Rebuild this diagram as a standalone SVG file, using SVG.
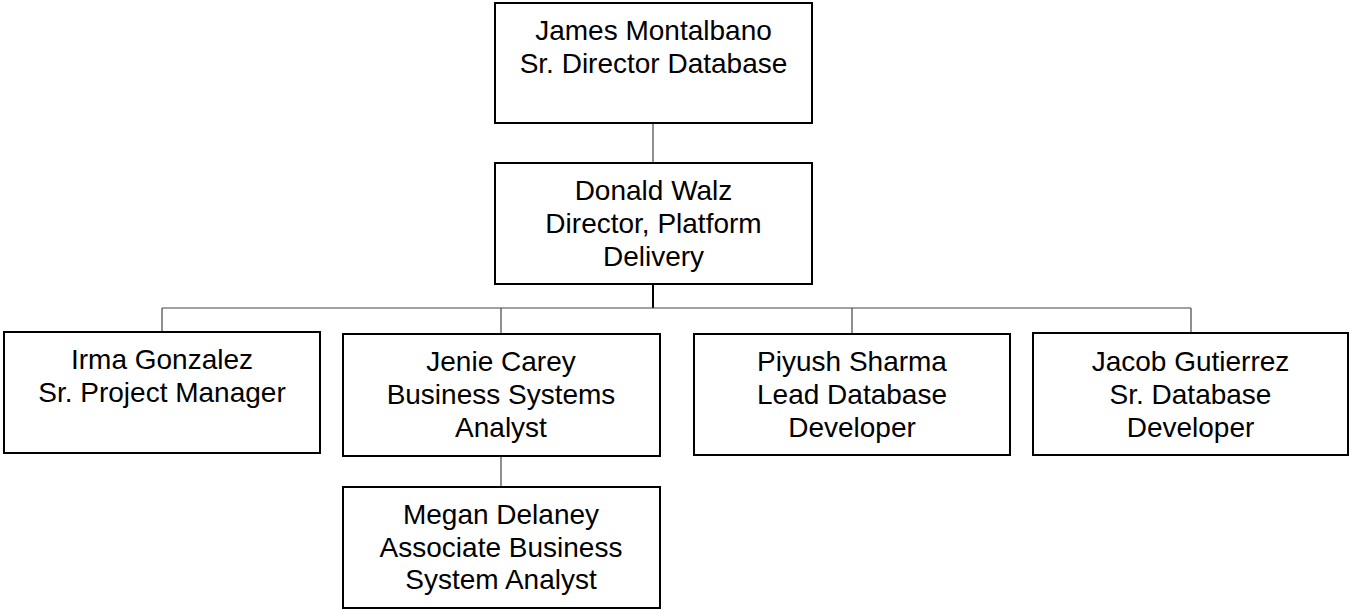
<svg xmlns="http://www.w3.org/2000/svg" width="1350" height="609" viewBox="0 0 1350 609">
<style>
.box{fill:#fff;stroke:#000;stroke-width:2}
.t{font-family:"Liberation Sans",Arial,sans-serif;font-size:28px;fill:#000;text-anchor:middle}
.c{fill:none;stroke:#444;stroke-width:1.2}
</style>
<rect width="1350" height="609" fill="#fff"/>
<g id="connectors">
<line class="c" x1="653" y1="123" x2="653" y2="163"/>
<line class="c" x1="653" y1="284" x2="653" y2="308" style="stroke:#000;stroke-width:2"/>
<line class="c" x1="162" y1="308" x2="1191" y2="308"/>
<line class="c" x1="162" y1="308" x2="162" y2="332"/>
<line class="c" x1="501" y1="308" x2="501" y2="334"/>
<line class="c" x1="852" y1="308" x2="852" y2="334"/>
<line class="c" x1="1191" y1="308" x2="1191" y2="333"/>
<line class="c" x1="501" y1="456" x2="501" y2="487"/>
</g>
<g id="james">
<rect class="box" x="495" y="3" width="317" height="120"/>
<text class="t" x="653.5" y="39.5">James Montalbano</text>
<text class="t" x="653.5" y="72.5">Sr. Director Database</text>
</g>
<g id="donald">
<rect class="box" x="495" y="163" width="317" height="121"/>
<text class="t" x="653.5" y="199.5">Donald Walz</text>
<text class="t" x="653.5" y="232.5">Director, Platform</text>
<text class="t" x="653.5" y="266">Delivery</text>
</g>
<g id="irma">
<rect class="box" x="4" y="332" width="316" height="121"/>
<text class="t" x="162" y="368.5">Irma Gonzalez</text>
<text class="t" x="162" y="401.5">Sr. Project Manager</text>
</g>
<g id="jenie">
<rect class="box" x="343" y="334" width="317" height="122"/>
<text class="t" x="501" y="371">Jenie Carey</text>
<text class="t" x="501" y="404">Business Systems</text>
<text class="t" x="501" y="437">Analyst</text>
</g>
<g id="piyush">
<rect class="box" x="694" y="334" width="316" height="121"/>
<text class="t" x="852" y="371">Piyush Sharma</text>
<text class="t" x="852" y="404">Lead Database</text>
<text class="t" x="852" y="437">Developer</text>
</g>
<g id="jacob">
<rect class="box" x="1033" y="333" width="315" height="122"/>
<text class="t" x="1190.5" y="371">Jacob Gutierrez</text>
<text class="t" x="1190.5" y="403.5">Sr. Database</text>
<text class="t" x="1190.5" y="437">Developer</text>
</g>
<g id="megan">
<rect class="box" x="343" y="487" width="317" height="121"/>
<text class="t" x="501" y="523.5">Megan Delaney</text>
<text class="t" x="501" y="556.5">Associate Business</text>
<text class="t" x="501" y="589">System Analyst</text>
</g>
</svg>
